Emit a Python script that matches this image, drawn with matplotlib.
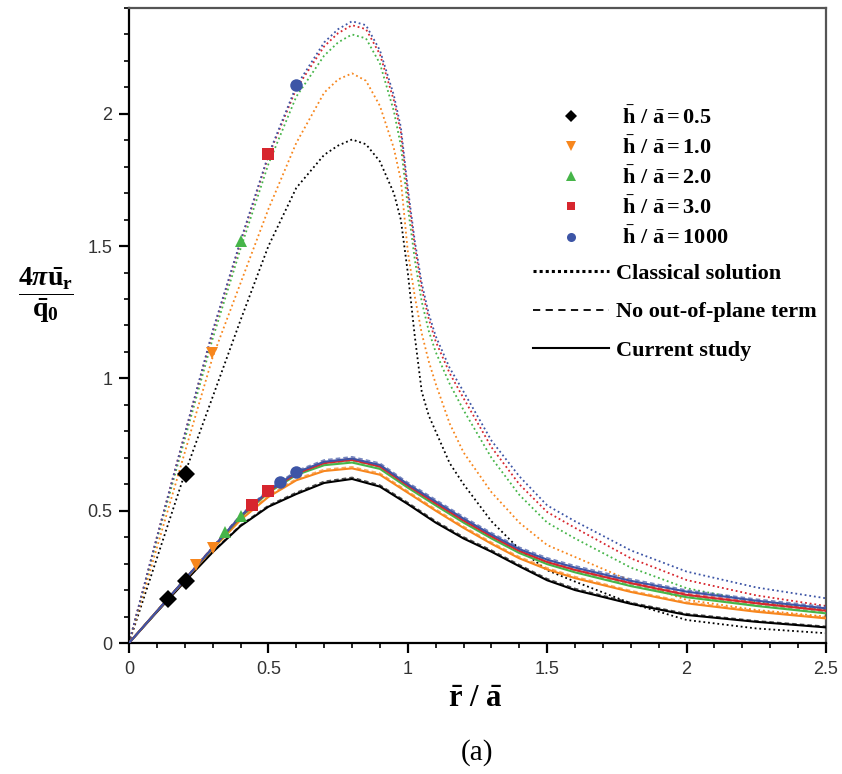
import matplotlib
matplotlib.use('Agg')
import matplotlib.pyplot as plt
from matplotlib.lines import Line2D
from matplotlib.ticker import MultipleLocator

plt.rcParams['font.family'] = ['Liberation Sans', 'DejaVu Sans']
plt.rcParams['mathtext.fontset'] = 'custom'
plt.rcParams['mathtext.rm'] = 'Liberation Serif:bold'
plt.rcParams['mathtext.bf'] = 'Liberation Serif:bold'
plt.rcParams['mathtext.it'] = 'Liberation Serif:italic:bold'

# ---------------- data ----------------
h_labels = ['0.5', '1.0', '2.0', '3.0', '1000']
colors = ['#000000', '#f7861d', '#46b549', '#d7262e', '#3d55a6']
markers = ['D', 'v', '^', 's', 'o']

# classical solution (dotted)
x_classical = [0, 0.1, 0.2, 0.3, 0.4, 0.5, 0.6, 0.7, 0.75, 0.8, 0.85, 0.9, 0.95, 0.975,
               1.0, 1.025, 1.05, 1.075, 1.1, 1.15, 1.2, 1.3, 1.4, 1.5, 1.6, 1.8, 2.0, 2.25, 2.5]
cl_h05 = [0, 0.32, 0.64, 0.93, 1.22, 1.50, 1.72, 1.845, 1.88, 1.903, 1.885, 1.82, 1.70, 1.60,
          1.40, 1.16, 0.95, 0.86, 0.80, 0.68, 0.60, 0.46, 0.355, 0.275, 0.232, 0.15, 0.087,
          0.055, 0.037]
cl_h1 = [0, 0.36, 0.72, 1.08, 1.36, 1.64, 1.89, 2.08, 2.13, 2.153, 2.125, 2.03, 1.87, 1.75,
         1.48, 1.31, 1.17, 1.065, 0.98, 0.83, 0.72, 0.57, 0.455, 0.37, 0.325, 0.235, 0.163,
         0.125, 0.10]
cl_h2 = [0, 0.39, 0.77, 1.15, 1.49, 1.81, 2.065, 2.22, 2.27, 2.30, 2.285, 2.19, 2.01, 1.88,
         1.65, 1.45, 1.29, 1.18, 1.10, 0.98, 0.88, 0.70, 0.56, 0.455, 0.395, 0.285, 0.207,
         0.155, 0.125]
cl_h3 = [0, 0.40, 0.79, 1.175, 1.515, 1.84, 2.095, 2.255, 2.305, 2.335, 2.32, 2.225, 2.05, 1.93,
         1.70, 1.50, 1.34, 1.225, 1.14, 1.02, 0.925, 0.74, 0.60, 0.495, 0.435, 0.32, 0.238,
         0.18, 0.14]
cl_h1000 = [0, 0.40, 0.79, 1.18, 1.52, 1.845, 2.105, 2.27, 2.32, 2.35, 2.335, 2.24, 2.07, 1.95,
            1.72, 1.52, 1.36, 1.245, 1.16, 1.04, 0.95, 0.765, 0.63, 0.52, 0.46, 0.35, 0.27,
            0.21, 0.169]

# current study (solid) and no out-of-plane term (dashed)
x_lower = [0, 0.1, 0.2, 0.3, 0.4, 0.5, 0.6, 0.7, 0.8, 0.9, 1.0, 1.1, 1.2, 1.3, 1.4, 1.5, 1.6,
           1.8, 2.0, 2.25, 2.5]
cs_h05 = [0, 0.117, 0.232, 0.343, 0.442, 0.515, 0.563, 0.605, 0.62, 0.591, 0.525, 0.455, 0.395,
          0.345, 0.29, 0.237, 0.20, 0.148, 0.106, 0.08, 0.059]
cs_h1 = [0, 0.12, 0.238, 0.355, 0.465, 0.552, 0.615, 0.65, 0.66, 0.636, 0.568, 0.50, 0.435,
         0.375, 0.32, 0.278, 0.245, 0.193, 0.150, 0.118, 0.093]
cs_h2 = [0, 0.12, 0.24, 0.358, 0.475, 0.568, 0.635, 0.672, 0.682, 0.658, 0.587, 0.52, 0.455,
         0.395, 0.34, 0.298, 0.267, 0.215, 0.173, 0.14, 0.112]
cs_h3 = [0, 0.12, 0.24, 0.36, 0.478, 0.572, 0.64, 0.68, 0.692, 0.667, 0.595, 0.528, 0.463,
         0.403, 0.348, 0.306, 0.276, 0.226, 0.182, 0.15, 0.122]
cs_h1000 = [0, 0.12, 0.24, 0.36, 0.48, 0.575, 0.645, 0.685, 0.697, 0.673, 0.60, 0.535, 0.47,
            0.41, 0.355, 0.315, 0.285, 0.235, 0.194, 0.16, 0.131]

no_h05 = [0, 0.118, 0.234, 0.346, 0.446, 0.52, 0.569, 0.611, 0.626, 0.597, 0.531, 0.461, 0.401,
          0.351, 0.296, 0.243, 0.206, 0.153, 0.111, 0.084, 0.063]
no_h1 = [0, 0.121, 0.24, 0.358, 0.469, 0.557, 0.621, 0.656, 0.666, 0.642, 0.574, 0.506, 0.441,
         0.381, 0.326, 0.284, 0.251, 0.198, 0.155, 0.122, 0.097]
no_h2 = [0, 0.121, 0.242, 0.361, 0.479, 0.573, 0.641, 0.678, 0.688, 0.664, 0.593, 0.526, 0.461,
         0.401, 0.346, 0.304, 0.273, 0.22, 0.178, 0.144, 0.116]
no_h3 = [0, 0.121, 0.242, 0.363, 0.482, 0.577, 0.646, 0.686, 0.698, 0.673, 0.601, 0.534, 0.469,
         0.409, 0.354, 0.312, 0.282, 0.231, 0.187, 0.154, 0.126]
no_h1000 = [0, 0.121, 0.242, 0.363, 0.484, 0.58, 0.651, 0.692, 0.704, 0.68, 0.607, 0.542, 0.477,
            0.417, 0.362, 0.322, 0.292, 0.242, 0.2, 0.166, 0.137]

# symbols placed on the curves
mk_x_h05 = [0.14, 0.205, 0.205]
mk_y_h05 = [0.167, 0.235, 0.64]
mk_x_h1 = [0.24, 0.30, 0.297]
mk_y_h1 = [0.295, 0.36, 1.096]
mk_x_h2 = [0.345, 0.40, 0.40]
mk_y_h2 = [0.42, 0.48, 1.52]
mk_x_h3 = [0.44, 0.50, 0.50]
mk_y_h3 = [0.52, 0.575, 1.85]
mk_x_h1000 = [0.54, 0.60, 0.60]
mk_y_h1000 = [0.61, 0.645, 2.11]

classical = [cl_h05, cl_h1, cl_h2, cl_h3, cl_h1000]
current = [cs_h05, cs_h1, cs_h2, cs_h3, cs_h1000]
noout = [no_h05, no_h1, no_h2, no_h3, no_h1000]
mk_x = [mk_x_h05, mk_x_h1, mk_x_h2, mk_x_h3, mk_x_h1000]
mk_y = [mk_y_h05, mk_y_h1, mk_y_h2, mk_y_h3, mk_y_h1000]

x_ticks = [0, 0.5, 1, 1.5, 2, 2.5]
x_ticklabels = ['0', '0.5', '1', '1.5', '2', '2.5']
y_ticks = [0, 0.5, 1, 1.5, 2]
y_ticklabels = ['0', '0.5', '1', '1.5', '2']

# ---------------- figure ----------------
W, H = 842, 774
fig = plt.figure(figsize=(W / 100, H / 100), dpi=100)
ax = fig.add_axes([129 / W, 1 - 643 / H, (826 - 129) / W, (643 - 8) / H])

for i in range(5):
    c = colors[i]
    ax.plot(x_classical, classical[i], linestyle=(0, (1, 1.6)), color=c, lw=1.3, zorder=2)
    ax.plot(x_lower, noout[i], linestyle=(0, (3, 2)), color=c, lw=1.1, alpha=0.7, zorder=3)
    ax.plot(x_lower, current[i], linestyle='-', color=c, lw=1.5, zorder=4)
    ax.plot(mk_x[i], mk_y[i], linestyle='none', marker=markers[i], color=c,
            markersize=9 if markers[i] != 's' else 8, markeredgewidth=0, zorder=6)

ax.set_xlim(0, 2.5)
ax.set_ylim(0, 2.4)
ax.set_xticks(x_ticks)
ax.set_xticklabels(x_ticklabels)
ax.set_yticks(y_ticks)
ax.set_yticklabels(y_ticklabels)
ax.xaxis.set_minor_locator(MultipleLocator(0.1))
ax.yaxis.set_minor_locator(MultipleLocator(0.1))
ax.tick_params(which='major', direction='out', length=7, width=1.6, labelsize=13,
               colors='#000000', labelcolor='#333333', pad=5)
ax.tick_params(axis='x', which='major', pad=6)
ax.tick_params(which='minor', direction='out', length=3.5, width=1.2, colors='#000000')
ax.tick_params(top=False, right=False, which='both')
for s in ['left', 'bottom']:
    ax.spines[s].set_linewidth(1.6)
    ax.spines[s].set_color('#000000')
for s in ['top', 'right']:
    ax.spines[s].set_linewidth(1.6)
    ax.spines[s].set_color('#555555')

# legends
prop = {'family': 'Liberation Serif', 'weight': 'bold', 'size': 16}
h1 = [Line2D([], [], linestyle='none', marker=markers[i], color=colors[i],
             markersize=6.5 if markers[i] != 's' else 6, markeredgewidth=0) for i in range(5)]
l1 = [r'$\bar{\mathbf{h}}\ /\ \bar{\mathbf{a}}=\mathbf{' + h + '}$' for h in h_labels]
leg1 = ax.legend(h1, l1, loc='upper left', bbox_to_anchor=(533 / W, 1 - 106 / H),
                 bbox_transform=fig.transFigure, frameon=False, prop=prop,
                 handlelength=3.4, handletextpad=0.6, labelspacing=0.33,
                 borderpad=0, borderaxespad=0)
ax.add_artist(leg1)
h2 = [Line2D([], [], color='k', lw=2.2, linestyle=(0, (1, 1))),
      Line2D([], [], color='k', lw=1.3, linestyle=(0, (4, 3))),
      Line2D([], [], color='k', lw=1.5, linestyle='-')]
l2 = ['Classical solution', 'No out-of-plane term', 'Current study']
leg2 = ax.legend(h2, l2, loc='upper left', bbox_to_anchor=(533 / W, 1 - 263 / H),
                 bbox_transform=fig.transFigure, frameon=False, prop=prop,
                 handlelength=3.4, handletextpad=0.35, labelspacing=0.82,
                 borderpad=0, borderaxespad=0)

# axis labels
fig.text(475 / W, 1 - 698 / H, r'$\bar{\mathbf{r}}\ /\ \bar{\mathbf{a}}$', ha='center',
         va='center', fontsize=22)
fig.text(46 / W, 1 - 295 / H,
         r'$\dfrac{\mathbf{4}\pi\bar{\mathbf{u}}_{\mathbf{r}}}{\bar{\mathbf{q}}_{\mathbf{0}}}$',
         ha='center', va='center', fontsize=20)
fig.text(477 / W, 1 - 753 / H, '(a)', ha='center', va='center', fontsize=21,
         family='Liberation Serif')

fig.savefig('out.png', dpi=100)
